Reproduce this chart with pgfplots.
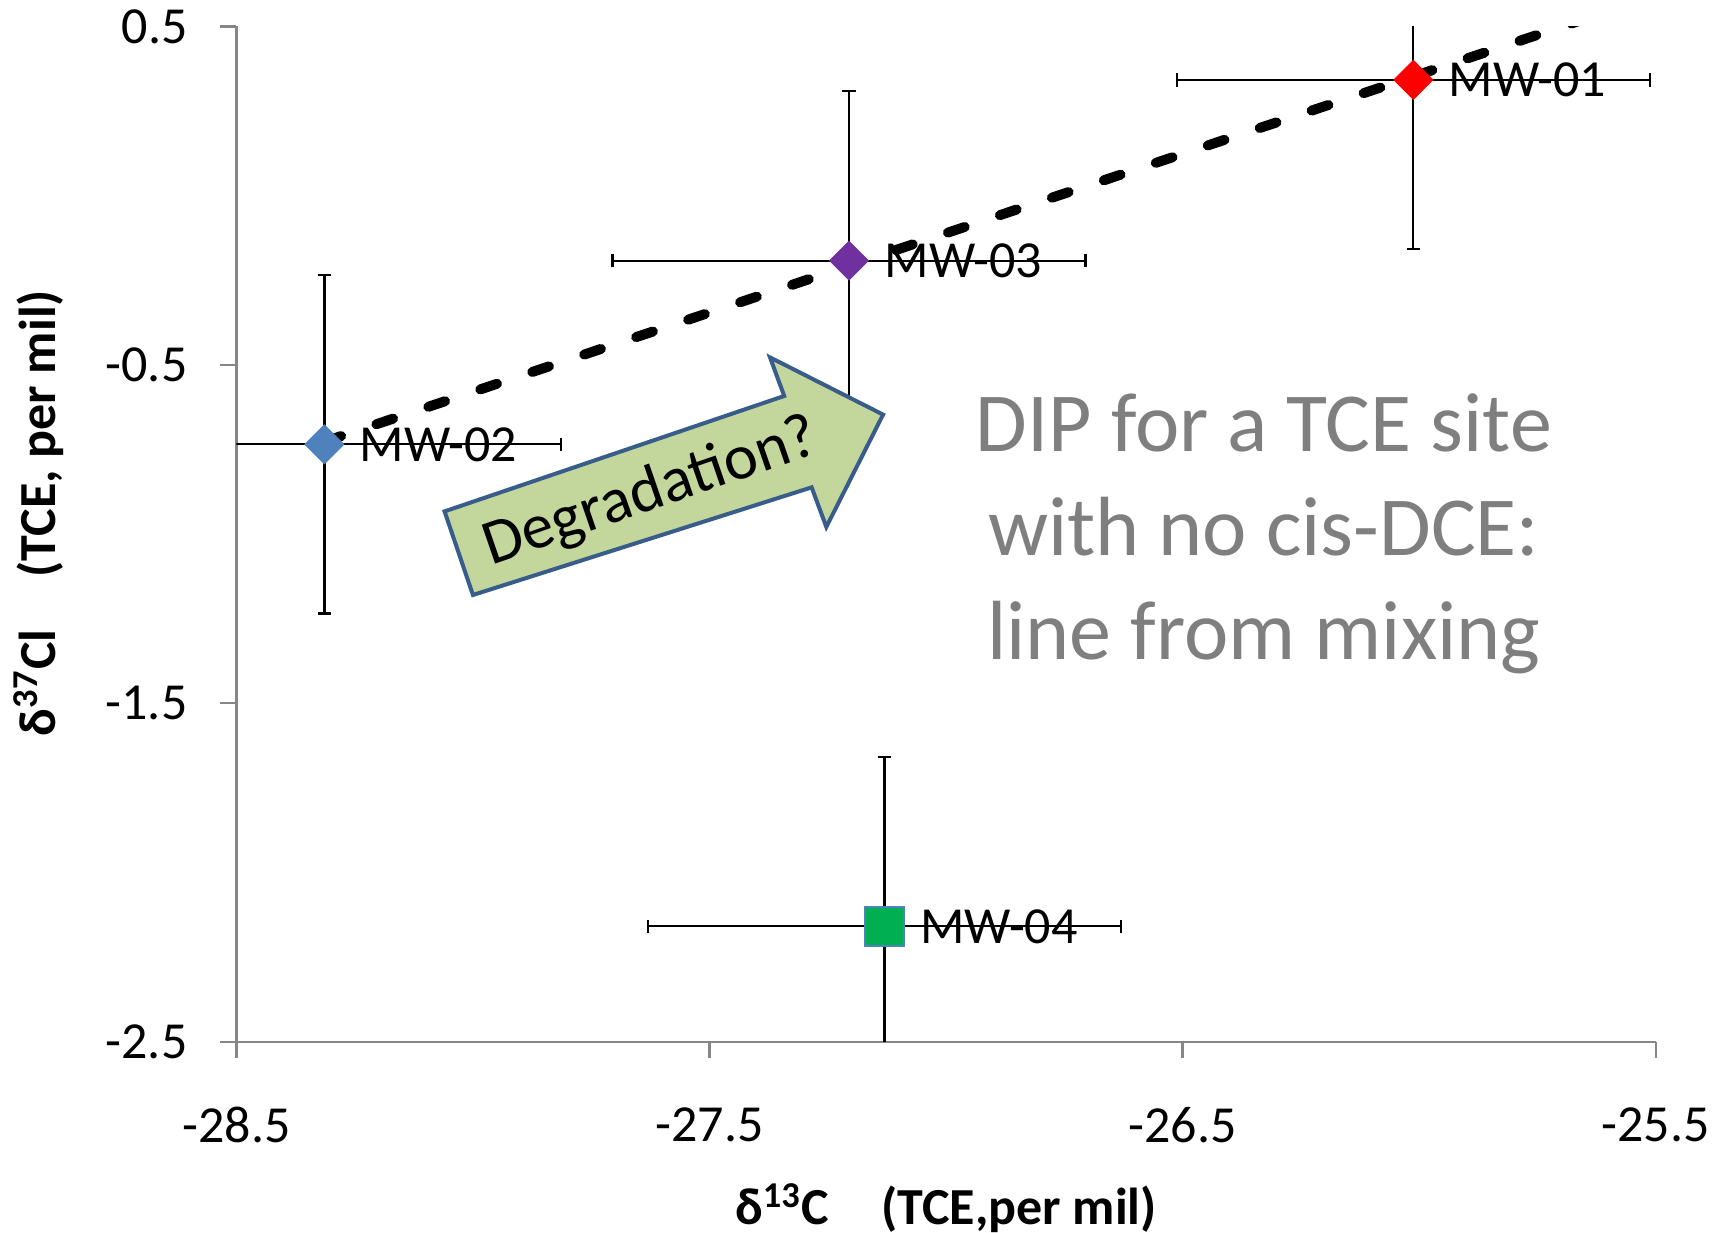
\documentclass[border=0pt]{standalone}
\usepackage{pgfplots}
\pgfplotsset{compat=1.18}
\usepackage{fontspec}
\setmainfont{Carlito}
\definecolor{mwblue}{HTML}{4F81BD}
\definecolor{mwpurple}{HTML}{7030A0}
\definecolor{mwred}{HTML}{FF0000}
\definecolor{mwgreen}{HTML}{00B050}
\definecolor{axgray}{HTML}{868686}
\definecolor{arrowfill}{HTML}{C3D69B}
\definecolor{arrowdraw}{HTML}{385D8A}
\definecolor{txtgray}{HTML}{7F7F7F}
\pgfdeclareplotmark{sqdiamond*}{%
  \pgfpathmoveto{\pgfqpoint{0pt}{\pgfplotmarksize}}%
  \pgfpathlineto{\pgfqpoint{\pgfplotmarksize}{0pt}}%
  \pgfpathlineto{\pgfqpoint{0pt}{-\pgfplotmarksize}}%
  \pgfpathlineto{\pgfqpoint{-\pgfplotmarksize}{0pt}}%
  \pgfpathclose\pgfusepathqfillstroke}
\pgfplotsset{
  errstyle/.style={
    /pgfplots/error bars/x dir=both, /pgfplots/error bars/x explicit,
    /pgfplots/error bars/y dir=both, /pgfplots/error bars/y explicit,
    /pgfplots/error bars/error bar style={draw=black, line width=0.55pt},
    /pgfplots/error bars/error mark options={rotate=90, draw=black, mark size=1.7pt, line width=0.55pt}},
  lbl/.style={/pgfplots/nodes near coords={#1},
    /pgfplots/nodes near coords style={anchor=west, xshift=5.4pt, text=black,
      font=\fontsize{13}{15}\selectfont}}
}
\begin{document}
\begin{tikzpicture}
\path[use as bounding box] (-59.1pt,-47.6pt) rectangle (372.1pt,260.4pt);
\begin{axis}[
  scale only axis, width=354.75pt, height=253.8pt,
  xmin=-28.5, xmax=-25.5, ymin=-2.5, ymax=0.5,
  axis x line=bottom, axis y line=left,
  axis line style={-, draw=axgray, line width=0.55pt},
  tick align=outside, major tick length=4pt,
  tick style={draw=axgray, line width=0.55pt},
  xtick={-28.5,-27.5,-26.5,-25.5},
  xticklabels={-28.5,-27.5,-26.5,-25.5},
  ytick={-2.5,-1.5,-0.5,0.5},
  yticklabels={-2.5,-1.5,-0.5,0.5},
  ticklabel style={font=\fontsize{13}{15}\selectfont},
  xticklabel style={anchor=center, yshift=-16.8pt},
  yticklabel style={anchor=east, xshift=-4.7pt},
  xlabel={δ\textsuperscript{13}C\hspace{1em}(TCE,per mil)},
  ylabel={δ\textsuperscript{37}Cl\hspace{1em}(TCE, per mil)},
  xlabel style={at={(axis description cs:0.5,-0.1638)}, anchor=center, font=\fontsize{13}{15}\selectfont\bfseries},
  ylabel style={at={(axis description cs:-0.1395,0.5207)}, anchor=center, font=\fontsize{13}{15}\selectfont\bfseries},
]
% MW-02
\addplot[only marks, mark=sqdiamond*, mark size=4.8pt, mark options={fill=mwblue, draw=mwblue, line width=0.3pt}, lbl={MW-02}, errstyle]
  coordinates {(-28.314,-0.735) +- (0.5,0.5)};
% MW-03
\addplot[only marks, mark=sqdiamond*, mark size=4.8pt, mark options={fill=mwpurple, draw=mwpurple, line width=0.3pt}, lbl={MW-03}, errstyle]
  coordinates {(-27.205,-0.192) +- (0.5,0.5)};
% MW-01
\addplot[only marks, mark=sqdiamond*, mark size=4.8pt, mark options={fill=mwred, draw=mwred, line width=0.3pt}, lbl={MW-01}, errstyle]
  coordinates {(-26.012,0.342) +- (0.5,0.5)};
% MW-04
\addplot[only marks, mark=square*, mark size=4.9pt, mark options={fill=mwgreen, draw=mwblue, line width=0.5pt}, lbl={MW-04}, errstyle]
  coordinates {(-27.130,-2.159) +- (0.5,0.5)};
% linear trend (MW-02, MW-03, MW-01), extended forward
\addplot[black, line width=2.5pt, dash pattern=on 4.4pt off 9.3pt, line cap=round, mark=none]
  coordinates {(-28.314,-0.727) (-25.5,0.592)};
% annotation arrow
\draw[fill=arrowfill, draw=arrowdraw, line width=1pt, line join=miter]
  (axis cs:-28.060,-0.933) -- (axis cs:-27.342,-0.592) -- (axis cs:-27.372,-0.478)
  -- (axis cs:-27.133,-0.647) -- (axis cs:-27.253,-0.979) -- (axis cs:-27.284,-0.862)
  -- (axis cs:-28.0,-1.180) -- cycle;
\node[rotate=19, font=\fontsize{16}{19}\selectfont] at (axis cs:-27.623,-0.878) {Degradation?};
\node[align=center, text=txtgray, font=\fontsize{21}{26}\selectfont] at (axis cs:-26.328,-1.0)
  {DIP for a TCE site\\with no cis-DCE:\\line from mixing};
\end{axis}
\end{tikzpicture}
\end{document}
